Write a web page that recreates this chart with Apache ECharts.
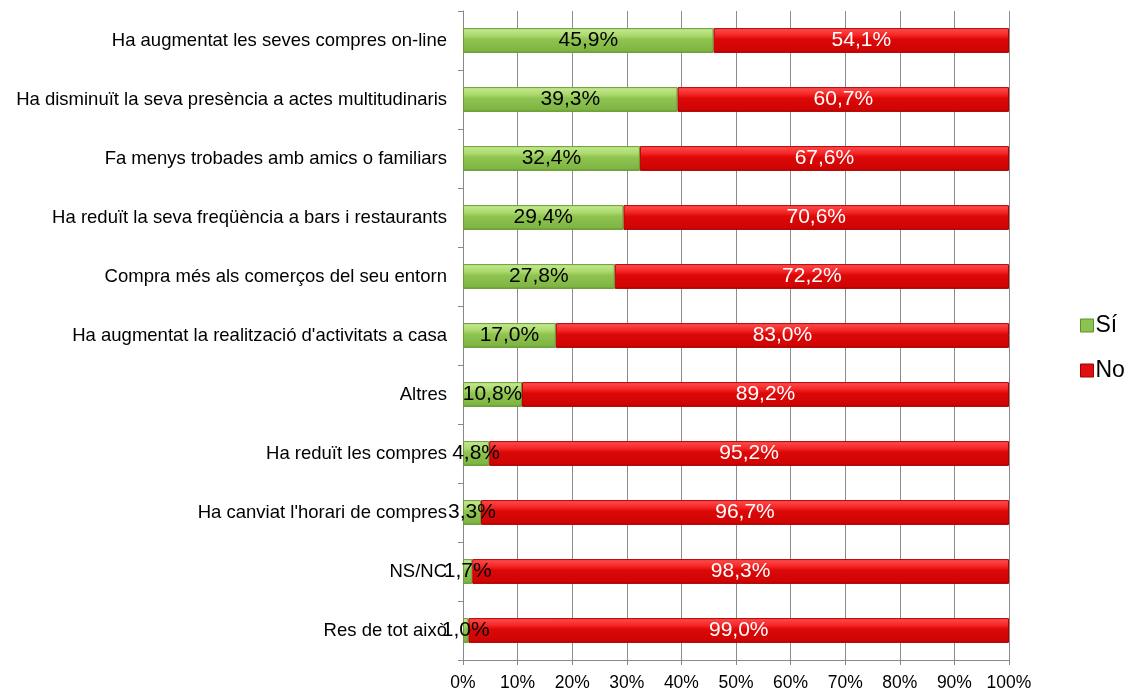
<!DOCTYPE html>
<html><head><meta charset="utf-8">
<script src="https://cdn.jsdelivr.net/npm/echarts@6/dist/echarts.min.js"></script>
<style>html,body{margin:0;padding:0;background:#fff}#c{width:1132px;height:693px}</style>
</head><body><div id="c"></div>
<script>
const categories = [
  "Ha augmentat les seves compres on-line",
  "Ha disminuït la seva presència a actes multitudinaris",
  "Fa menys trobades amb amics o familiars",
  "Ha reduït la seva freqüència a bars i restaurants",
  "Compra més als comerços del seu entorn",
  "Ha augmentat la realització d'activitats a casa",
  "Altres",
  "Ha reduït les compres",
  "Ha canviat l'horari de compres",
  "NS/NC",
  "Res de tot això"
];
const si = [45.9, 39.3, 32.4, 29.4, 27.8, 17.0, 10.8, 4.8, 3.3, 1.7, 1.0];
const no = [54.1, 60.7, 67.6, 70.6, 72.2, 83.0, 89.2, 95.2, 96.7, 98.3, 99.0];
const xTicks = [0,10,20,30,40,50,60,70,80,90,100];

const font = "'Liberation Sans', Arial, sans-serif";
const fmt = p => p.value.toFixed(1).replace('.', ',') + '%';
const greenGrad = new echarts.graphic.LinearGradient(0,0,0,1,[
  {offset:0,color:'#c6ea92'},{offset:0.3,color:'#acd96d'},{offset:0.45,color:'#8fc451'},{offset:0.9,color:'#7fb543'},{offset:1,color:'#6a9a35'}]);
const redGrad = new echarts.graphic.LinearGradient(0,0,0,1,[
  {offset:0,color:'#ff5050'},{offset:0.3,color:'#f42424'},{offset:0.45,color:'#dc0808'},{offset:0.9,color:'#d00404'},{offset:1,color:'#b00000'}]);

const chart = echarts.init(document.getElementById('c'));
chart.setOption({
  animation:false,
  grid:{left:463,right:123,top:11,bottom:33},
  legend:{
    orient:'vertical', left:1075, top:309, itemGap:22,
    itemWidth:13, itemHeight:13, icon:'rect',
    textStyle:{fontFamily:font,fontSize:23,color:'#000',padding:[0,0,0,-3]},
    data:[{name:'Sí',itemStyle:{color:'#8cc24e',borderColor:'#5f8f2c',borderWidth:1}},
          {name:'No',itemStyle:{color:'#e01010',borderColor:'#a00000',borderWidth:1}}]
  },
  xAxis:{
    type:'value', min:0, max:100, interval:10,
    axisLabel:{formatter: v => v + '%', fontFamily:font, fontSize:17.5, color:'#000', margin:14},
    axisLine:{show:true,lineStyle:{color:'#888'}},
    axisTick:{show:true,length:5,lineStyle:{color:'#888'}},
    splitLine:{show:true,lineStyle:{color:'#8c8c8c',width:1}}
  },
  yAxis:{
    type:'category', data:categories, inverse:true,
    axisLabel:{fontFamily:font, fontSize:18.5, color:'#000', margin:16},
    axisLine:{show:true,lineStyle:{color:'#888'}},
    axisTick:{show:true,length:5,inside:false,lineStyle:{color:'#888'}}
  },
  series:[
    {name:'Sí', type:'bar', stack:'t', data:si, barCategoryGap:'58%',
     itemStyle:{color:greenGrad,borderColor:'#6a9a35',borderWidth:1},
     label:{show:true,position:'inside',formatter:fmt,fontFamily:font,fontSize:21,color:'#000'}},
    {name:'No', type:'bar', stack:'t', data:no,
     itemStyle:{color:redGrad,borderColor:'#b00000',borderWidth:1},
     label:{show:true,position:'inside',formatter:fmt,fontFamily:font,fontSize:21,color:'#fff'}}
  ]
});
</script></body></html>
